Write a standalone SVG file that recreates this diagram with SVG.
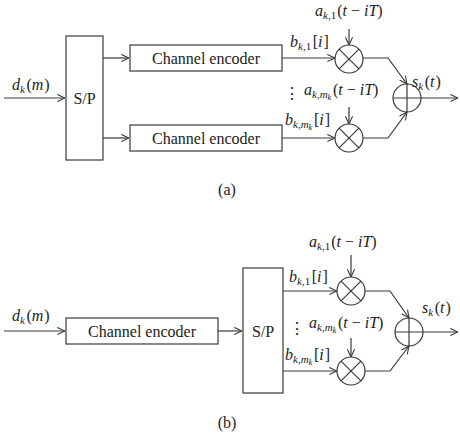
<svg xmlns="http://www.w3.org/2000/svg" width="460" height="436" viewBox="0 0 460 436">
<defs>
<marker id="arr" viewBox="0 0 10 10" refX="9.5" refY="5" markerWidth="9" markerHeight="9" markerUnits="userSpaceOnUse" orient="auto">
<path d="M1,1 L9.5,5 L1,9" fill="none" stroke="#3a3a3a" stroke-width="1.2"/>
</marker>
<style>
.ln{fill:none;stroke:#3a3a3a;stroke-width:1.2}
.bx{fill:#fff;stroke:#3a3a3a;stroke-width:1.2}
text{font-family:'Liberation Serif','Times New Roman',Times,'DejaVu Serif',serif;font-size:16px;fill:#222}
.i{font-style:italic}
.s{font-size:11px;font-style:italic}
.n{font-size:11px}
.ss{font-size:8.5px;font-style:italic}
.c{text-anchor:middle}
</style>
</defs>
<rect width="460" height="436" fill="#fff"/>

<!-- (a) -->
<g id="connectors-a">
<line class="ln" x1="4" y1="98" x2="65" y2="98" marker-end="url(#arr)"/>
<line class="ln" x1="103" y1="58" x2="129" y2="58" marker-end="url(#arr)"/>
<line class="ln" x1="103" y1="138" x2="129" y2="138" marker-end="url(#arr)"/>
<line class="ln" x1="282" y1="58" x2="335" y2="58" marker-end="url(#arr)"/>
<line class="ln" x1="282" y1="138" x2="335" y2="138" marker-end="url(#arr)"/>
<line class="ln" x1="349" y1="29" x2="349" y2="45" marker-end="url(#arr)"/>
<line class="ln" x1="349" y1="107" x2="349" y2="124" marker-end="url(#arr)"/>
<polyline class="ln" points="363,58 388,58 407,84" marker-end="url(#arr)"/>
<polyline class="ln" points="363,138 388,138 407,112" marker-end="url(#arr)"/>
<line class="ln" x1="421" y1="98" x2="458" y2="98" marker-end="url(#arr)"/>
</g>
<g id="sp-a"><rect class="bx" x="66" y="36" width="37" height="124"/><text class="c" x="84.5" y="103.5">S/P</text></g>
<g id="enc-a1"><rect class="bx" x="130" y="45" width="152" height="26"/><text class="c" x="206" y="63.5">Channel encoder</text></g>
<g id="enc-a2"><rect class="bx" x="130" y="125" width="152" height="26"/><text class="c" x="206" y="143.5">Channel encoder</text></g>
<g id="mul-a1"><circle class="ln" cx="349" cy="59" r="14"/><path class="ln" d="M339.1,49.1 L358.9,68.9 M358.9,49.1 L339.1,68.9"/></g>
<g id="mul-a2"><circle class="ln" cx="349" cy="138" r="14"/><path class="ln" d="M339.1,128.1 L358.9,147.9 M358.9,128.1 L339.1,147.9"/></g>
<g id="add-a"><circle class="ln" cx="407" cy="98" r="14"/><path class="ln" d="M393,98 L421,98 M407,84 L407,112"/></g>
<g id="labels-a">
<text x="12" y="90"><tspan class="i">d</tspan><tspan class="s" dy="3">k</tspan><tspan dx="1.5" dy="-3">(</tspan><tspan class="i">m</tspan><tspan dx="1">)</tspan></text>
<text x="315" y="16"><tspan class="i">a</tspan><tspan class="s" dy="3">k</tspan><tspan class="n">,1</tspan><tspan dx="1" dy="-3">(</tspan><tspan class="i">t</tspan> − <tspan class="i">iT</tspan>)</text>
<text x="304" y="95"><tspan class="i">a</tspan><tspan class="s" dy="3">k</tspan><tspan class="n">,</tspan><tspan class="s">m</tspan><tspan class="ss" dy="2">k</tspan><tspan dx="1.5" dy="-5">(</tspan><tspan class="i">t</tspan> − <tspan class="i">iT</tspan>)</text>
<text x="290" y="47"><tspan class="i">b</tspan><tspan class="s" dy="3">k</tspan><tspan class="n">,1</tspan><tspan dx="1.5" dy="-3">[</tspan><tspan class="i">i</tspan><tspan dx="1">]</tspan></text>
<text x="285" y="125"><tspan class="i">b</tspan><tspan class="s" dy="3">k</tspan><tspan class="n">,</tspan><tspan class="s">m</tspan><tspan class="ss" dy="2">k</tspan><tspan dx="1.5" dy="-5">[</tspan><tspan class="i">i</tspan><tspan dx="1">]</tspan></text>
<text x="412" y="87"><tspan class="i">s</tspan><tspan class="s" dy="3">k</tspan><tspan dx="1.5" dy="-3">(</tspan><tspan class="i">t</tspan><tspan dx="1">)</tspan></text>
<text class="c" x="292" y="99">⋮</text>
<text class="c" x="227" y="195" font-size="14">(a)</text>
</g>

<!-- (b) -->
<g id="connectors-b">
<line class="ln" x1="4" y1="331" x2="65" y2="331" marker-end="url(#arr)"/>
<line class="ln" x1="218" y1="331" x2="242" y2="331" marker-end="url(#arr)"/>
<line class="ln" x1="283" y1="291" x2="337" y2="291" marker-end="url(#arr)"/>
<line class="ln" x1="283" y1="371" x2="337" y2="371" marker-end="url(#arr)"/>
<line class="ln" x1="351" y1="255" x2="351" y2="277" marker-end="url(#arr)"/>
<line class="ln" x1="351" y1="338" x2="351" y2="357" marker-end="url(#arr)"/>
<polyline class="ln" points="365,291 390,291 409,318" marker-end="url(#arr)"/>
<polyline class="ln" points="365,371 390,371 409,346" marker-end="url(#arr)"/>
<line class="ln" x1="423" y1="332" x2="458" y2="332" marker-end="url(#arr)"/>
</g>
<g id="enc-b"><rect class="bx" x="66" y="318" width="152" height="26"/><text class="c" x="142" y="336.5">Channel encoder</text></g>
<g id="sp-b"><rect class="bx" x="243" y="268" width="40" height="125"/><text class="c" x="263" y="336.5">S/P</text></g>
<g id="mul-b1"><circle class="ln" cx="351" cy="291" r="14"/><path class="ln" d="M341.1,281.1 L360.9,300.9 M360.9,281.1 L341.1,300.9"/></g>
<g id="mul-b2"><circle class="ln" cx="351" cy="371" r="14"/><path class="ln" d="M341.1,361.1 L360.9,380.9 M360.9,361.1 L341.1,380.9"/></g>
<g id="add-b"><circle class="ln" cx="409" cy="332" r="14"/><path class="ln" d="M395,332 L423,332 M409,318 L409,346"/></g>
<g id="labels-b">
<text x="12" y="321"><tspan class="i">d</tspan><tspan class="s" dy="3">k</tspan><tspan dx="1.5" dy="-3">(</tspan><tspan class="i">m</tspan><tspan dx="1">)</tspan></text>
<text x="309" y="247"><tspan class="i">a</tspan><tspan class="s" dy="3">k</tspan><tspan class="n">,1</tspan><tspan dx="1" dy="-3">(</tspan><tspan class="i">t</tspan> − <tspan class="i">iT</tspan>)</text>
<text x="309" y="328"><tspan class="i">a</tspan><tspan class="s" dy="3">k</tspan><tspan class="n">,</tspan><tspan class="s">m</tspan><tspan class="ss" dy="2">k</tspan><tspan dx="1.5" dy="-5">(</tspan><tspan class="i">t</tspan> − <tspan class="i">iT</tspan>)</text>
<text x="289" y="282"><tspan class="i">b</tspan><tspan class="s" dy="3">k</tspan><tspan class="n">,1</tspan><tspan dx="1.5" dy="-3">[</tspan><tspan class="i">i</tspan><tspan dx="1">]</tspan></text>
<text x="285" y="360"><tspan class="i">b</tspan><tspan class="s" dy="3">k</tspan><tspan class="n">,</tspan><tspan class="s">m</tspan><tspan class="ss" dy="2">k</tspan><tspan dx="1.5" dy="-5">[</tspan><tspan class="i">i</tspan><tspan dx="1">]</tspan></text>
<text x="422" y="313"><tspan class="i">s</tspan><tspan class="s" dy="3">k</tspan><tspan dx="1.5" dy="-3">(</tspan><tspan class="i">t</tspan><tspan dx="1">)</tspan></text>
<text class="c" x="297" y="334">⋮</text>
<text class="c" x="227" y="428" font-size="14">(b)</text>
</g>
</svg>
